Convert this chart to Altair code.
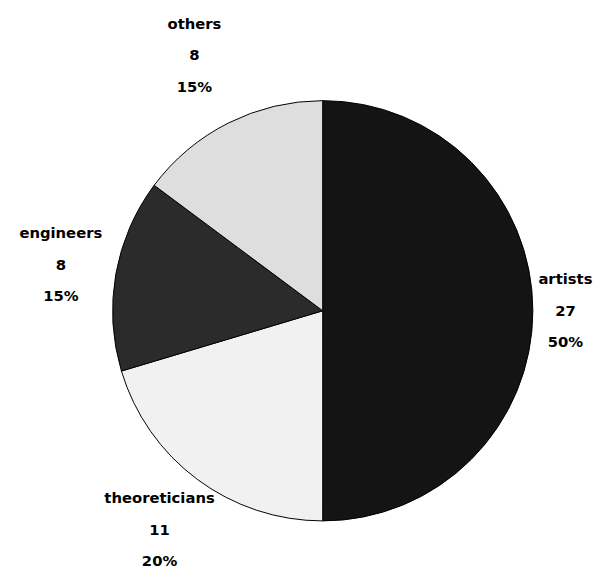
import altair as alt
import pandas as pd

categories = ["artists", "theoreticians", "engineers", "others"]
counts = [27, 11, 8, 8]
fills = ["#141414", "#f1f1f1", "#2b2b2b", "#dedede"]

total = sum(counts)
labels = [f"{c}\n{v}\n{round(v / total * 100)}%" for c, v in zip(categories, counts)]

df = pd.DataFrame({
    "cat": categories,
    "v": counts,
    "label": labels,
    "idx": list(range(len(categories))),
})

base = alt.Chart(df)

arcs = base.mark_arc(radius=213, stroke="black", strokeWidth=1).encode(
    theta=alt.Theta("v:Q", stack=True),
    color=alt.Color("cat:N", scale=alt.Scale(domain=categories, range=fills), legend=None),
    order=alt.Order("idx:Q"),
)

texts = (
    base.transform_joinaggregate(total="sum(v)")
    .transform_window(cum="sum(v)", sort=[alt.SortField("idx")], frame=[None, 0])
    .transform_calculate(
        mid="(datum.cum - datum.v / 2) / datum.total * 2 * PI",
        lr=(
            "246 + 40 * abs(cos(datum.mid)) + 9 * cos(datum.mid)"
            " + max(0, length(datum.cat) - 7) * 8 * pow(abs(sin(datum.mid)), 4)"
        ),
    )
    .mark_text(
        font="DejaVu Sans",
        fontWeight="bold",
        fontSize=15,
        lineBreak="\n",
        lineHeight=32,
        align="center",
        baseline="middle",
        dy=-32,
        color="black",
    )
    .encode(
        theta=alt.Theta("mid:Q", scale=None),
        radius=alt.Radius("lr:Q", scale=None),
        text="label:N",
    )
)

chart = (
    alt.layer(arcs, texts)
    .resolve_scale(theta="independent", radius="independent")
    .properties(
        width=544,
        height=540,
        padding={"left": 47, "top": 33, "right": 5, "bottom": 0},
        autosize=alt.AutoSizeParams(type="none"),
        background="white",
    )
    .configure_view(stroke=None)
)

chart.save("out.html", embed_options={"renderer": "svg", "actions": False})
